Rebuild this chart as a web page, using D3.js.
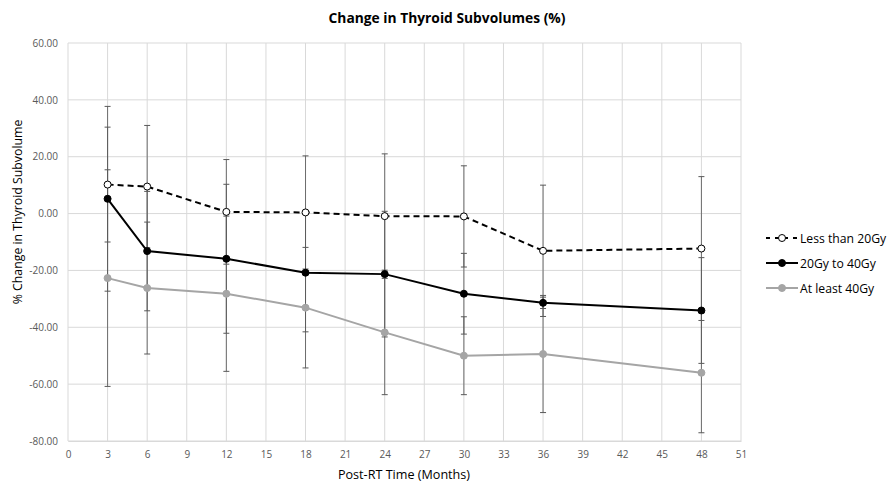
<!DOCTYPE html>
<html>
<head>
<meta charset="utf-8">
<script src="https://cdn.jsdelivr.net/npm/d3@7"></script>
<style>
body { margin: 0; background: #fff; }
text { font-family: "Open Sans", Lato, sans-serif; }
</style>
</head>
<body>
<div id="chart"></div>
<script>
// data
var months = [3, 6, 12, 18, 24, 30, 36, 48];
var seriesNames = ["Less than 20Gy", "20Gy to 40Gy", "At least 40Gy"];
var lessThan20 = [10.2, 9.5, 0.6, 0.4, -0.9, -1.0, -13.1, -12.3];
var lessThan20Err = [20.2, 21.5, 18.4, 19.9, 21.9, 17.8, 23.1, 25.3];
var from20to40 = [5.2, -13.2, -15.9, -20.8, -21.3, -28.2, -31.4, -34.1];
var from20to40Err = [32.5, 21.0, 26.2, 20.8, 22.1, 14.2, 2.0, 18.6];
var atLeast40 = [-22.7, -26.2, -28.2, -33.1, -41.8, -50.0, -49.4, -56.0];
var atLeast40Err = [38.1, 23.2, 27.3, 21.2, 21.9, 13.7, 20.6, 21.1];
var xTicks = d3.range(0, 52, 3);
var yTicks = [60, 40, 20, 0, -20, -40, -60, -80];

var W = 887, H = 482;
var margin = {top: 43, right: 146, bottom: 41, left: 68};
var width = W - margin.left - margin.right,
    height = H - margin.top - margin.bottom;

var svg = d3.select("#chart").append("svg")
  .attr("width", W).attr("height", H);
var g = svg.append("g").attr("transform", "translate(" + margin.left + "," + margin.top + ")");

var x = d3.scaleLinear().domain([0, 51]).range([0, width]);
var y = d3.scaleLinear().domain([-80, 60]).range([height, 0]);

// gridlines
g.append("g").selectAll("line").data(yTicks).enter().append("line")
  .attr("x1", 0).attr("x2", width)
  .attr("y1", function(d){ return y(d); }).attr("y2", function(d){ return y(d); })
  .attr("stroke", "#d9d9d9").attr("stroke-width", 1);
g.append("g").selectAll("line").data(xTicks).enter().append("line")
  .attr("y1", 0).attr("y2", height)
  .attr("x1", function(d){ return x(d); }).attr("x2", function(d){ return x(d); })
  .attr("stroke", "#d9d9d9").attr("stroke-width", 1);

// axes (labels only)
var xAxis = g.append("g").attr("transform", "translate(0," + height + ")")
  .call(d3.axisBottom(x).tickValues(xTicks).tickSize(0).tickPadding(10));
xAxis.select(".domain").attr("stroke", "#d9d9d9");
xAxis.selectAll("text").attr("fill", "#595959").style("font-size", "10px");

var yAxis = g.append("g")
  .call(d3.axisLeft(y).tickValues(yTicks).tickSize(0).tickPadding(10));
yAxis.select(".domain").remove();
yAxis.selectAll("text").attr("fill", "#595959").style("font-size", "10px")
  .text(function(d){ return d3.format(".2f")(d).replace("−", "-"); });

var series = [
  {name: seriesNames[0], vals: lessThan20, err: lessThan20Err, color: "#000", fill: "#fff", dash: "6,4"},
  {name: seriesNames[1], vals: from20to40, err: from20to40Err, color: "#000", fill: "#000", dash: null},
  {name: seriesNames[2], vals: atLeast40, err: atLeast40Err, color: "#a5a5a5", fill: "#a5a5a5", dash: null}
];

// error bars
series.forEach(function(s){
  var eg = g.append("g");
  months.forEach(function(m, i){
    var lo = s.vals[i] - s.err[i], hi = s.vals[i] + s.err[i];
    eg.append("line").attr("x1", x(m)).attr("x2", x(m))
      .attr("y1", y(hi)).attr("y2", y(lo))
      .attr("stroke", "#595959").attr("stroke-opacity", 0.85).attr("stroke-width", 1);
    [lo, hi].forEach(function(v){
      eg.append("line").attr("x1", x(m) - 3).attr("x2", x(m) + 3)
        .attr("y1", y(v)).attr("y2", y(v))
        .attr("stroke", "#595959").attr("stroke-width", 1);
    });
  });
});

var line = d3.line().x(function(d){ return x(d[0]); }).y(function(d){ return y(d[1]); });

series.slice().reverse().forEach(function(s){
  var pts = months.map(function(m, i){ return [m, s.vals[i]]; });
  g.append("path").datum(pts).attr("d", line)
    .attr("fill", "none").attr("stroke", s.color).attr("stroke-width", 2)
    .attr("stroke-dasharray", s.dash);
  g.selectAll(null).data(pts).enter().append("circle")
    .attr("cx", function(d){ return x(d[0]); }).attr("cy", function(d){ return y(d[1]); })
    .attr("r", 3.5).attr("fill", s.fill).attr("stroke", s.color).attr("stroke-width", 1);
});

// title and axis labels
svg.append("text").attr("x", 447).attr("y", 23).attr("text-anchor", "middle")
  .style("font-size", "13.8px").style("font-weight", "bold").attr("fill", "#000")
  .text("Change in Thyroid Subvolumes (%)");
svg.append("text").attr("x", 404).attr("y", 479).attr("text-anchor", "middle")
  .style("font-size", "12.6px").attr("fill", "#000")
  .text("Post-RT Time (Months)");
svg.append("text").attr("transform", "translate(22,212) rotate(-90)")
  .attr("text-anchor", "middle").style("font-size", "12.3px").attr("fill", "#000")
  .text("% Change in Thyroid Subvolume");

// legend
var legend = svg.append("g").attr("transform", "translate(766,238)");
series.forEach(function(s, i){
  var lg = legend.append("g").attr("transform", "translate(0," + (i * 25) + ")");
  lg.append("line").attr("x1", 0).attr("x2", 32).attr("y1", 0).attr("y2", 0)
    .attr("stroke", s.color).attr("stroke-width", 2).attr("stroke-dasharray", s.dash ? "4,5" : null);
  lg.append("circle").attr("cx", 16).attr("cy", 0).attr("r", 3.5)
    .attr("fill", s.fill).attr("stroke", s.color).attr("stroke-width", 1);
  lg.append("text").attr("x", 34).attr("y", 4.5).style("font-size", "12.2px").attr("fill", "#000")
    .text(s.name);
});
</script>
</body>
</html>
